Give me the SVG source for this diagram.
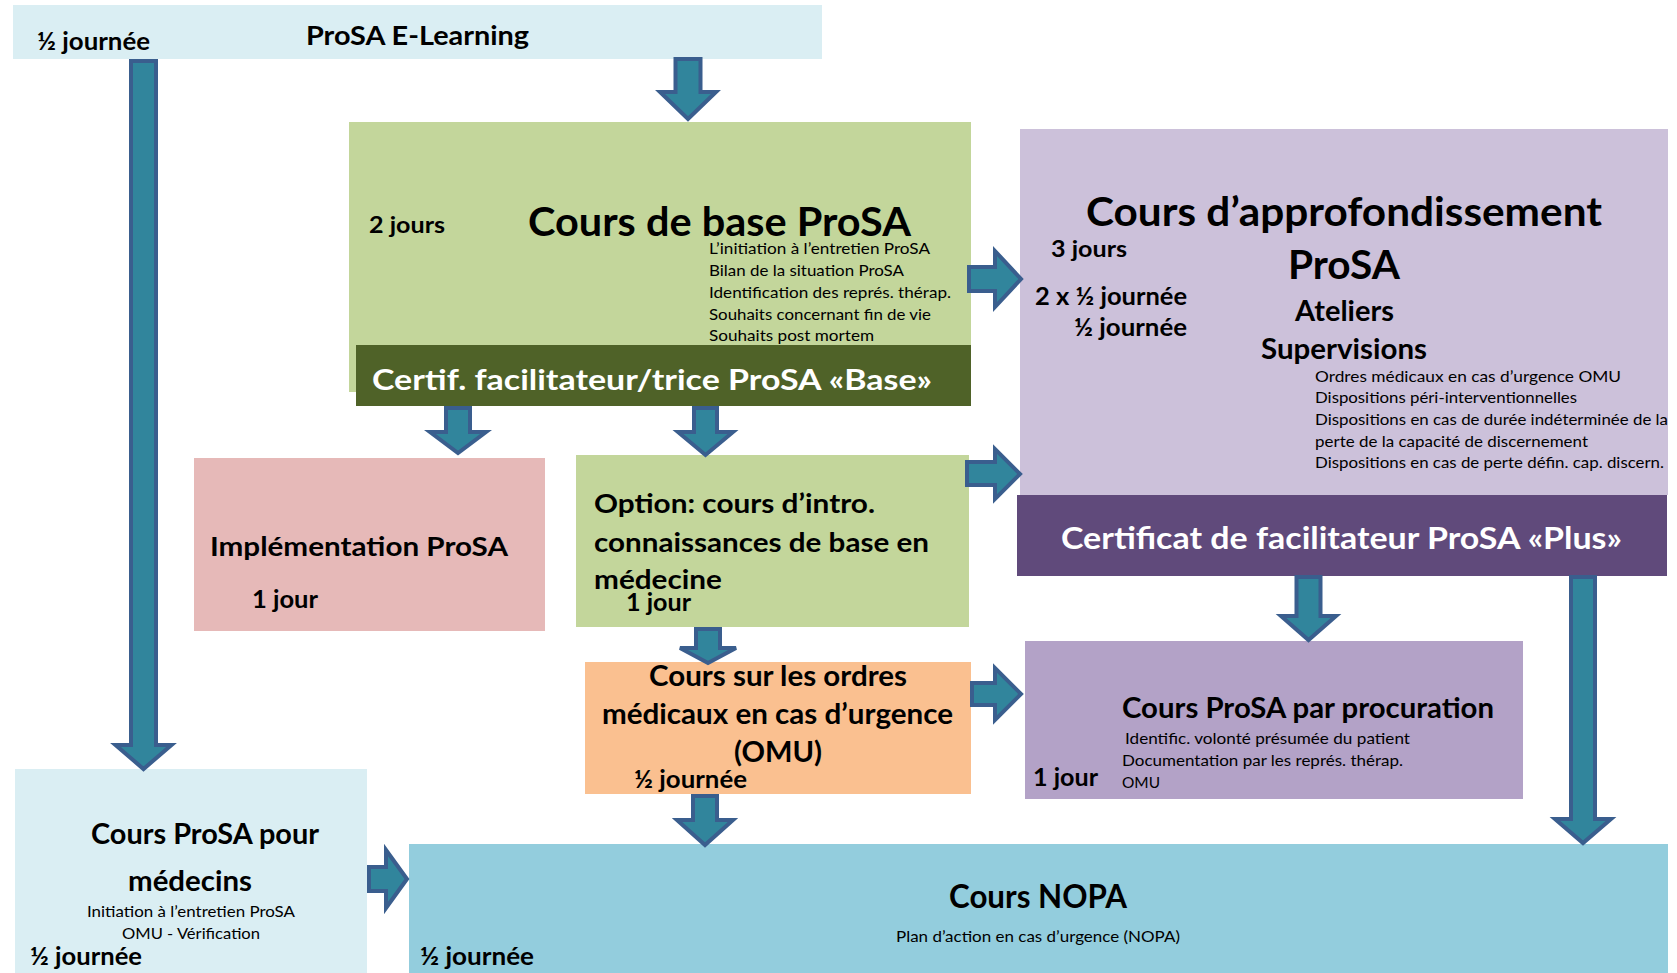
<svg xmlns="http://www.w3.org/2000/svg" width="1677" height="973" viewBox="0 0 1677 973">
<style>
text{font-family:Lato,"Liberation Sans",sans-serif;fill:#000;}
.b{font-weight:bold;}
.w{fill:#fff;font-weight:bold;}
.s{font-size:16px;}
.arrow{fill:#31859C;stroke:#3A5E8E;stroke-width:4;stroke-linejoin:miter;}
</style>
<rect width="1677" height="973" fill="#fff"/>
<g id="elearning">
<rect x="13" y="5" width="809" height="54" fill="#DAEEF3"/>
<text class="b" x="37" y="50" font-size="24" textLength="113" lengthAdjust="spacingAndGlyphs">½ journée</text>
<text class="b" x="306" y="45" font-size="27" textLength="223" lengthAdjust="spacingAndGlyphs">ProSA E-Learning</text>
</g>
<g id="base">
<rect x="349" y="122" width="622" height="270" fill="#C3D69B"/>
<text class="b" x="369" y="233" font-size="23" textLength="76" lengthAdjust="spacingAndGlyphs">2 jours</text>
<text class="b" x="528" y="236" font-size="41" textLength="383" lengthAdjust="spacingAndGlyphs">Cours de base ProSA</text>
<text class="s" x="709" y="254" textLength="221" lengthAdjust="spacingAndGlyphs">L’initiation à l’entretien ProSA</text>
<text class="s" x="709" y="276" textLength="195" lengthAdjust="spacingAndGlyphs">Bilan de la situation ProSA</text>
<text class="s" x="709" y="298" textLength="242" lengthAdjust="spacingAndGlyphs">Identification des représ. thérap.</text>
<text class="s" x="709" y="320" textLength="222" lengthAdjust="spacingAndGlyphs">Souhaits concernant fin de vie</text>
<text class="s" x="709" y="341" textLength="165" lengthAdjust="spacingAndGlyphs">Souhaits post mortem</text>
</g>
<g id="certif-base">
<rect x="356" y="345" width="615" height="61" fill="#4F6228"/>
<text class="w" x="372" y="390" font-size="29" textLength="560" lengthAdjust="spacingAndGlyphs">Certif. facilitateur/trice ProSA «Base»</text>
</g>
<g id="approfondissement">
<rect x="1020" y="129" width="648" height="366" fill="#CCC1DA"/>
<text class="b" x="1086" y="226" font-size="41" textLength="516" lengthAdjust="spacingAndGlyphs">Cours d’approfondissement</text>
<text class="b" x="1288" y="279" font-size="41" textLength="112" lengthAdjust="spacingAndGlyphs">ProSA</text>
<text class="b" x="1295" y="321" font-size="28" textLength="99" lengthAdjust="spacingAndGlyphs">Ateliers</text>
<text class="b" x="1261" y="359" font-size="28" textLength="166" lengthAdjust="spacingAndGlyphs">Supervisions</text>
<text class="b" x="1051" y="257" font-size="23" textLength="76" lengthAdjust="spacingAndGlyphs">3 jours</text>
<text class="b" x="1035" y="305" font-size="24" textLength="152" lengthAdjust="spacingAndGlyphs">2 x ½ journée</text>
<text class="b" x="1074" y="336" font-size="24" textLength="113" lengthAdjust="spacingAndGlyphs">½ journée</text>
<text class="s" x="1315" y="382" textLength="306" lengthAdjust="spacingAndGlyphs">Ordres médicaux en cas d’urgence OMU</text>
<text class="s" x="1315" y="403" textLength="262" lengthAdjust="spacingAndGlyphs">Dispositions péri-interventionnelles</text>
<text class="s" x="1315" y="425" textLength="353" lengthAdjust="spacingAndGlyphs">Dispositions en cas de durée indéterminée de la</text>
<text class="s" x="1315" y="447" textLength="273" lengthAdjust="spacingAndGlyphs">perte de la capacité de discernement</text>
<text class="s" x="1315" y="468" textLength="349" lengthAdjust="spacingAndGlyphs">Dispositions en cas de perte défin. cap. discern.</text>
</g>
<g id="certif-plus">
<rect x="1017" y="495" width="650" height="81" fill="#604A7B"/>
<text class="w" x="1061" y="549" font-size="30" textLength="561" lengthAdjust="spacingAndGlyphs">Certificat de facilitateur ProSA «Plus»</text>
</g>
<g id="implementation">
<rect x="194" y="458" width="351" height="173" fill="#E6B9B8"/>
<text class="b" x="210" y="556" font-size="26" textLength="298" lengthAdjust="spacingAndGlyphs">Implémentation ProSA</text>
<text class="b" x="252" y="608" font-size="24" textLength="66" lengthAdjust="spacingAndGlyphs">1 jour</text>
</g>
<g id="option">
<rect x="576" y="455" width="393" height="172" fill="#C3D69B"/>
<text class="b" x="594" y="513" font-size="27" textLength="281" lengthAdjust="spacingAndGlyphs">Option: cours d’intro.</text>
<text class="b" x="594" y="552" font-size="27" textLength="335" lengthAdjust="spacingAndGlyphs">connaissances de base en</text>
<text class="b" x="594" y="589" font-size="27" textLength="128" lengthAdjust="spacingAndGlyphs">médecine</text>
<text class="b" x="626" y="611" font-size="24" textLength="65" lengthAdjust="spacingAndGlyphs">1 jour</text>
</g>
<g id="omu">
<rect x="585" y="662" width="386" height="132" fill="#FAC090"/>
<text class="b" x="649" y="686" font-size="28" textLength="258" lengthAdjust="spacingAndGlyphs">Cours sur les ordres</text>
<text class="b" x="602" y="724" font-size="28" textLength="351" lengthAdjust="spacingAndGlyphs">médicaux en cas d’urgence</text>
<text class="b" x="734" y="762" font-size="28" textLength="88" lengthAdjust="spacingAndGlyphs">(OMU)</text>
<text class="b" x="634" y="788" font-size="24" textLength="113" lengthAdjust="spacingAndGlyphs">½ journée</text>
</g>
<g id="procuration">
<rect x="1025" y="641" width="498" height="158" fill="#B3A2C7"/>
<text class="b" x="1122" y="718" font-size="28" textLength="372" lengthAdjust="spacingAndGlyphs">Cours ProSA par procuration</text>
<text class="s" x="1125" y="744" textLength="285" lengthAdjust="spacingAndGlyphs">Identific. volonté présumée du patient</text>
<text class="s" x="1122" y="766" textLength="281" lengthAdjust="spacingAndGlyphs">Documentation par les représ. thérap.</text>
<text class="s" x="1122" y="788" textLength="38" lengthAdjust="spacingAndGlyphs">OMU</text>
<text class="b" x="1033" y="786" font-size="24" textLength="65" lengthAdjust="spacingAndGlyphs">1 jour</text>
</g>
<g id="medecins">
<rect x="15" y="769" width="352" height="204" fill="#DAEEF3"/>
<text class="b" x="91" y="844" font-size="28" textLength="228" lengthAdjust="spacingAndGlyphs">Cours ProSA pour</text>
<text class="b" x="128" y="891" font-size="28" textLength="124" lengthAdjust="spacingAndGlyphs">médecins</text>
<text class="s" x="87" y="917" textLength="208" lengthAdjust="spacingAndGlyphs">Initiation à l’entretien ProSA</text>
<text class="s" x="122" y="939" textLength="138" lengthAdjust="spacingAndGlyphs">OMU - Vérification</text>
<text class="b" x="30" y="965" font-size="24" textLength="112" lengthAdjust="spacingAndGlyphs">½ journée</text>
</g>
<g id="nopa">
<rect x="409" y="844" width="1259" height="129" fill="#93CDDD"/>
<text class="b" x="949" y="908" font-size="33" textLength="178" lengthAdjust="spacingAndGlyphs">Cours NOPA</text>
<text class="s" x="896" y="942" textLength="284" lengthAdjust="spacingAndGlyphs">Plan d’action en cas d’urgence (NOPA)</text>
<text class="b" x="420" y="965" font-size="24" textLength="114" lengthAdjust="spacingAndGlyphs">½ journée</text>
</g>
<g id="connectors">
<path class="arrow" d="M675.5,59 H700.5 V92 H716 L688,119 L660,92 H675.5 Z"/>
<path class="arrow" d="M131,61 H156 V745 H171.5 L143.5,769 L115.5,745 H131 Z"/>
<path class="arrow" d="M446,408 H470 V432 H486 L458,453 L430,432 H446 Z"/>
<path class="arrow" d="M694,408 H717 V432 H733 L705.5,455 L678,432 H694 Z"/>
<path class="arrow" d="M696,629 H720 V648 H736 L708,663 L680,648 H696 Z"/>
<path class="arrow" d="M693,796 H717 V820 H733 L705,845 L677,820 H693 Z"/>
<path class="arrow" d="M1296.5,577 H1320.5 V616 H1336 L1308.5,640 L1281,616 H1296.5 Z"/>
<path class="arrow" d="M1571,577 H1595 V819 H1611 L1583,843 L1555,819 H1571 Z"/>
<path class="arrow" d="M969,267 H995 V251 L1021,279 L995,307 V291 H969 Z"/>
<path class="arrow" d="M967,462 H995 V449 L1020,474 L995,499 V485 H967 Z"/>
<path class="arrow" d="M972,683 H995 V668 L1021,694 L995,720 V705 H972 Z"/>
<path class="arrow" d="M369,867 H386 V850 L407,879 L386,908 V891 H369 Z"/>
</g>
</svg>
